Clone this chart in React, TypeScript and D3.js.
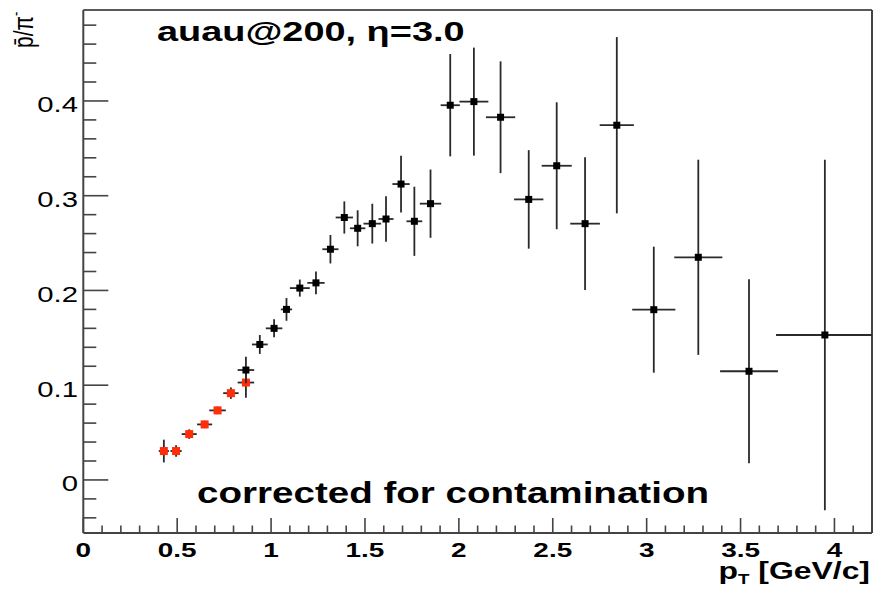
import React from "react";
import * as d3 from "d3";

// Black points: pT, ratio, y error, x half-width
const blackPt = [0.866, 0.940, 1.016, 1.082, 1.153, 1.239, 1.316, 1.390, 1.461, 1.539, 1.612, 1.692, 1.763, 1.849, 1.954, 2.080, 2.222, 2.372, 2.521, 2.672, 2.841, 3.038, 3.275, 3.545, 3.949];
const blackVal = [0.116, 0.143, 0.160, 0.180, 0.2025, 0.208, 0.2435, 0.277, 0.2656, 0.2705, 0.2754, 0.3123, 0.273, 0.2916, 0.3955, 0.3993, 0.3828, 0.2961, 0.3316, 0.2705, 0.3744, 0.1797, 0.235, 0.1147, 0.153];
const blackErr = [0.014, 0.010, 0.0095, 0.012, 0.009, 0.012, 0.015, 0.017, 0.019, 0.021, 0.024, 0.030, 0.0365, 0.036, 0.054, 0.057, 0.059, 0.052, 0.067, 0.070, 0.093, 0.0665, 0.103, 0.097, 0.185];
const blackXErr = [0.044, 0.042, 0.044, 0.03, 0.053, 0.046, 0.043, 0.046, 0.041, 0.047, 0.040, 0.046, 0.042, 0.057, 0.051, 0.077, 0.078, 0.078, 0.080, 0.079, 0.091, 0.115, 0.128, 0.154, 0.26];

// Red points
const redPt = [0.429, 0.494, 0.564, 0.646, 0.715, 0.786, 0.866];
const redVal = [0.0305, 0.0305, 0.0484, 0.0586, 0.0734, 0.0916, 0.1028];
const redErr = [0.012, 0.006, 0.005, 0.004, 0.004, 0.006, 0.016];
const redXErr = [0.027, 0.03, 0.04, 0.04, 0.044, 0.041, 0.044];

const xTicks = [0, 0.5, 1, 1.5, 2, 2.5, 3, 3.5, 4];
const xTickLabels = ["0", "0.5", "1", "1.5", "2", "2.5", "3", "3.5", "4"];
const yTicks = [0, 0.1, 0.2, 0.3, 0.4];
const yTickLabels = ["0", "0.1", "0.2", "0.3", "0.4"];

const titleText = "auau@200, \u03b7=3.0";
const noteText = "corrected for contamination";

const FONT = "'Liberation Sans', Arial, Helvetica, sans-serif";
const SX = 1.33;

function SText({ x, y, anchor = "start", size, weight = "normal", children }: any) {
  return (
    <g transform={`translate(${x},${y}) scale(${SX},1)`}>
      <text textAnchor={anchor} fontSize={size} fontWeight={weight} fontFamily={FONT} fill="#000">
        {children}
      </text>
    </g>
  );
}

export default function App() {
  const L = 83.3, R = 872, T = 10, B = 533;
  const x = d3.scaleLinear().domain([0, 4.2]).range([L, R]);
  const y = d3.scaleLinear().domain([-0.056, 0.496]).range([B, T]);
  const cx = (v: number) => Math.max(L, Math.min(R, x(v)));

  const xMinor = d3.range(0, 4.2001, 0.1).filter((v) => Math.abs(v * 2 - Math.round(v * 2)) > 1e-6);
  const yMinor = d3.range(-0.04, 0.4901, 0.02).filter((v) => Math.abs(v * 10 - Math.round(v * 10)) > 1e-6);

  const errStroke = "#2a2a2a";

  const points = (pts: number[], vals: number[], errs: number[], xerrs: number[], color: string, ms: number) =>
    pts.map((p, i) => (
      <g key={i}>
        <line x1={cx(p - xerrs[i])} x2={cx(p + xerrs[i])} y1={y(vals[i])} y2={y(vals[i])} stroke={errStroke} strokeWidth={1.8} />
        <line x1={x(p)} x2={x(p)} y1={y(vals[i] + errs[i])} y2={y(vals[i] - errs[i])} stroke={errStroke} strokeWidth={1.8} />
        <rect x={x(p) - ms / 2} y={y(vals[i]) - ms / 2} width={ms} height={ms} fill={color} />
      </g>
    ));

  return (
    <svg width={884} height={590} style={{ position: "absolute", left: 0, top: 0, background: "#fff" }}>
      <rect x={0} y={0} width={884} height={590} fill="#fff" />
      {/* frame */}
      <line x1={L} x2={R} y1={T} y2={T} stroke="#222" strokeWidth={1.5} />
      <line x1={R} x2={R} y1={T} y2={B} stroke="#444" strokeWidth={2} />
      <line x1={L} x2={L} y1={T} y2={B} stroke="#444" strokeWidth={2} />
      <line x1={L} x2={R} y1={B} y2={B} stroke="#444" strokeWidth={2} />

      {/* x ticks */}
      {xTicks.map((t) => (
        <line key={"xt" + t} x1={x(t)} x2={x(t)} y1={B} y2={B - 15} stroke="#444" strokeWidth={1.6} />
      ))}
      {xMinor.map((t) => (
        <line key={"xm" + t} x1={x(t)} x2={x(t)} y1={B} y2={B - 7.5} stroke="#444" strokeWidth={1.6} />
      ))}
      {/* y ticks */}
      {yTicks.map((t) => (
        <line key={"yt" + t} x1={L} x2={L + 25} y1={y(t)} y2={y(t)} stroke="#444" strokeWidth={1.6} />
      ))}
      {yMinor.map((t) => (
        <line key={"ym" + t} x1={L} x2={L + 13} y1={y(t)} y2={y(t)} stroke="#444" strokeWidth={1.6} />
      ))}

      {/* tick labels */}
      {xTicks.map((t, i) => (
        <SText key={"xl" + t} x={x(t)} y={557} anchor="middle" size={21} weight="bold">
          {xTickLabels[i]}
        </SText>
      ))}
      {yTicks.map((t, i) => (
        <SText key={"yl" + t} x={78} y={y(t) + 11.5} anchor="end" size={22}>
          {yTickLabels[i]}
        </SText>
      ))}

      {/* axis titles */}
      <g transform={`translate(870,579) scale(${SX},1)`}>
        <text textAnchor="end" fontSize={24} fontWeight="bold" fontFamily={FONT}>
          p
          <tspan fontSize={14} dy={5}>T</tspan>
          <tspan dy={-5}> [GeV/c]</tspan>
        </text>
      </g>
      <g transform={`translate(33,48) rotate(-90) scale(1,${SX})`}>
        <text fontSize={21} fontFamily={FONT}>
          {"p\u0304/\u03c0"}
          <tspan fontSize={13} dy={-9}>-</tspan>
        </text>
      </g>

      {/* data */}
      {points(redPt, redVal, redErr, redXErr, "#ff2d0a", 8)}
      {points(blackPt, blackVal, blackErr, blackXErr, "#000", 7)}

      {/* annotations */}
      <SText x={157} y={41} size={28.5} weight="bold">{titleText}</SText>
      <SText x={197} y={503} size={29} weight="bold">{noteText}</SText>
    </svg>
  );
}
